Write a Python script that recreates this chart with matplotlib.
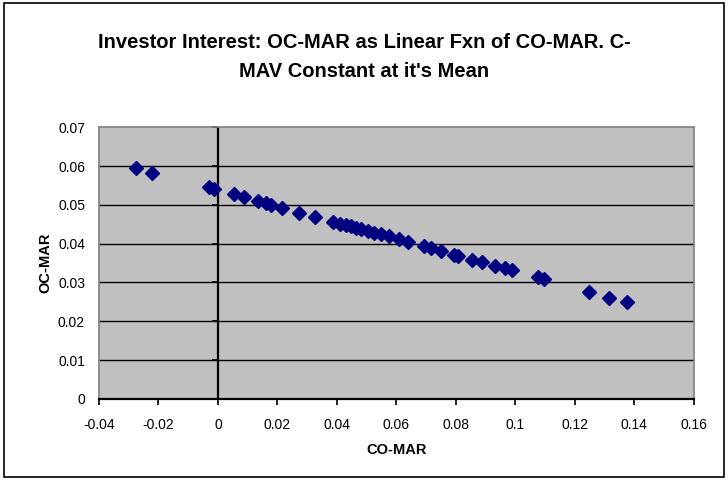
import matplotlib

matplotlib.use("Agg")
import matplotlib.pyplot as plt
import numpy as np
from matplotlib.patches import Rectangle

plt.rcParams["font.family"] = ["Liberation Sans", "DejaVu Sans"]

# values
co_mar = [-0.0275, -0.0222, -0.0029, -0.0012, 0.0055, 0.0087, 0.0136, 0.0162,
          0.0179, 0.0215, 0.0274, 0.0327, 0.0386, 0.0411, 0.0430, 0.0448,
          0.0465, 0.0481, 0.0504, 0.0525, 0.0549, 0.0576, 0.0610, 0.0638,
          0.0694, 0.0717, 0.0750, 0.0795, 0.0806, 0.0854, 0.0888, 0.0933,
          0.0966, 0.0989, 0.1075, 0.1097, 0.1249, 0.1314, 0.1374]
oc_mar = [0.0595, 0.0583, 0.0546, 0.0540, 0.0527, 0.0519, 0.0510, 0.0504,
          0.0500, 0.0491, 0.0480, 0.0469, 0.0455, 0.0451, 0.0448, 0.0445,
          0.0441, 0.0438, 0.0432, 0.0428, 0.0425, 0.0419, 0.0411, 0.0405,
          0.0395, 0.0388, 0.0382, 0.0371, 0.0367, 0.0359, 0.0352, 0.0342,
          0.0337, 0.0331, 0.0313, 0.0309, 0.0275, 0.0261, 0.0250]

x_ticks = [-0.04, -0.02, 0, 0.02, 0.04, 0.06, 0.08, 0.1, 0.12, 0.14, 0.16]
x_tick_labels = ["-0.04", "-0.02", "0", "0.02", "0.04", "0.06", "0.08", "0.1", "0.12", "0.14", "0.16"]
y_ticks = [0, 0.01, 0.02, 0.03, 0.04, 0.05, 0.06, 0.07]
y_tick_labels = ["0", "0.01", "0.02", "0.03", "0.04", "0.05", "0.06", "0.07"]

title = "Investor Interest: OC-MAR as Linear Fxn of CO-MAR. C-\nMAV Constant at it's Mean"

fig = plt.figure(figsize=(7.28, 4.8), dpi=100)
fig.patches.append(Rectangle((0.005, 0.006), 0.989, 0.987, transform=fig.transFigure,
                             fill=False, edgecolor="black", linewidth=1.2))

ax = fig.add_axes([0.136, 0.169, 0.817, 0.566])
ax.set_facecolor("#c0c0c0")
ax.set_xlim(-0.04, 0.16)
ax.set_ylim(0, 0.07)

ax.set_xticks(x_ticks)
ax.set_xticklabels(x_tick_labels, fontsize=10)
ax.set_yticks(y_ticks)
ax.set_yticklabels(y_tick_labels, fontsize=10)
ax.tick_params(axis="x", direction="out", length=4, width=1.2, color="black", pad=10)
ax.tick_params(axis="y", length=0, pad=10)

for yv in y_ticks[1:-1]:
    ax.axhline(yv, color="black", linewidth=1.0, zorder=1)

for side in ("left", "right", "top"):
    ax.spines[side].set_color("#808080")
    ax.spines[side].set_linewidth(1.2)
ax.spines["bottom"].set_color("black")
ax.spines["bottom"].set_linewidth(1.6)

# value axis crosses at x = 0
ax.axvline(0, color="black", linewidth=1.6, zorder=2)
ax.plot(np.zeros(len(y_ticks)), y_ticks, linestyle="none", marker=0, markersize=4,
        markeredgewidth=1.2, color="black", zorder=2, clip_on=False)

ax.plot(co_mar, oc_mar, linestyle="none", marker="D", markersize=7.5,
        color="#000080", markeredgecolor="#000080", zorder=3)

ax.set_xlabel("CO-MAR", fontsize=10.5, fontweight="bold", labelpad=8)
ax.set_ylabel("OC-MAR", fontsize=10.5, fontweight="bold", labelpad=4)

fig.text(0.5, 0.881, title, ha="center", va="center", fontsize=14.5, fontweight="bold",
         linespacing=1.65)

fig.savefig("out.png", dpi=100)
